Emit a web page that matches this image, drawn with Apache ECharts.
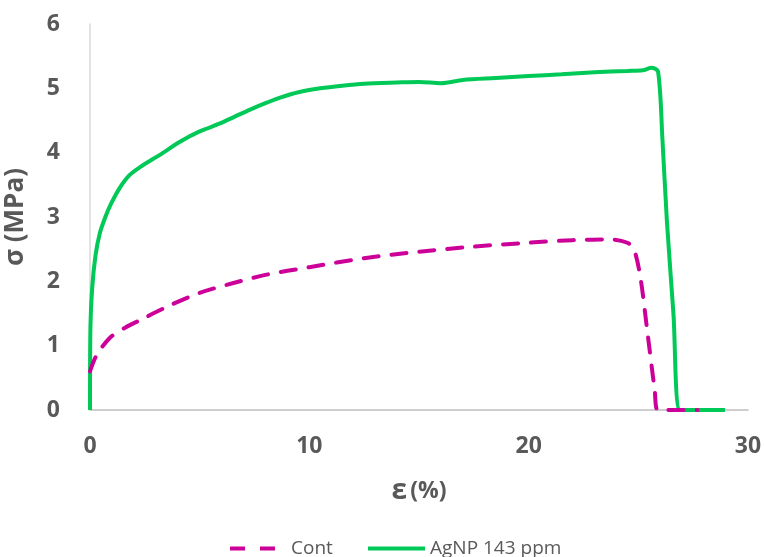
<!DOCTYPE html>
<html>
<head>
<meta charset="utf-8">
<script src="https://cdn.jsdelivr.net/npm/echarts@6/dist/echarts.min.js"></script>
<style>
  html, body { margin: 0; padding: 0; background: #ffffff; }
  #chart { width: 764px; height: 557px; }
</style>
</head>
<body>
<div id="chart"></div>
<script>
// Stress–strain curves: strain ε (%) vs. stress σ (MPa)
const seriesNames = ['Cont', 'AgNP 143 ppm'];

const contCurve = [
  [0, 0.6], [0.3, 0.85], [0.9, 1.12], [1.6, 1.28], [2.3, 1.4], [3.6, 1.62],
  [5, 1.82], [6.5, 1.97], [8, 2.1], [10, 2.22], [12.5, 2.36], [15, 2.46],
  [17.5, 2.54], [20, 2.6], [22, 2.64], [23.8, 2.65], [24.5, 2.6], [24.8, 2.5],
  [25.1, 2.05], [25.4, 1.25], [25.75, 0.3], [25.9, 0], [27.7, 0]
];

const agnpCurve = [
  [0, 0], [0.02, 1.3], [0.1, 1.9], [0.25, 2.4], [0.45, 2.75], [0.7, 3.0],
  [0.95, 3.2], [1.35, 3.45], [1.8, 3.65], [2.3, 3.78], [3.2, 3.97], [4.1, 4.17],
  [5.0, 4.33], [5.9, 4.45], [6.6, 4.56], [7.3, 4.67], [8.0, 4.77], [8.7, 4.86],
  [9.5, 4.94], [10.5, 5.0], [11.5, 5.04], [12.5, 5.07], [14, 5.09], [15, 5.1],
  [16, 5.08], [17, 5.13], [18.5, 5.16], [20, 5.19], [21.5, 5.22], [23, 5.25],
  [24.5, 5.27], [25.2, 5.28], [25.6, 5.32], [25.9, 5.26], [26.1, 4.2],
  [26.3, 2.95], [26.6, 1.5], [26.9, 0], [27.5, 0], [28.95, 0]
];

const xTicks = { min: 0, max: 30, interval: 10 };
const yTicks = { min: 0, max: 6, interval: 1 };

const textColor = '#595959';
const fontFamily = '"Open Sans", Lato, sans-serif';
const contColor = '#CC0099';
const agnpColor = '#00C957';

const chart = echarts.init(document.getElementById('chart'), null, { renderer: 'canvas' });

chart.setOption({
  animation: false,
  backgroundColor: '#ffffff',
  grid: { left: 90, right: 16, top: 24, bottom: 147, containLabel: false, outerBoundsMode: 'none' },
  xAxis: {
    type: 'value',
    min: xTicks.min, max: xTicks.max, interval: xTicks.interval,
    name: '{e|ε} {p|(%)}',
    nameLocation: 'middle',
    nameGap: 67,
    nameTextStyle: {
      rich: {
        e: { fontSize: 28, fontWeight: 'bold', color: textColor, fontFamily: fontFamily },
        p: { fontSize: 23, fontWeight: 'bold', color: textColor, fontFamily: fontFamily }
      }
    },
    axisLine: { show: true, onZero: false, lineStyle: { color: '#BFBFBF', width: 1.5 } },
    axisTick: { show: false },
    splitLine: { show: false },
    axisLabel: { margin: 25, fontSize: 23, fontWeight: 'bold', color: textColor, fontFamily: fontFamily }
  },
  yAxis: {
    type: 'value',
    min: yTicks.min, max: yTicks.max, interval: yTicks.interval,
    name: 'σ (MPa)',
    nameLocation: 'middle',
    nameGap: 61,
    nameRotate: 90,
    nameTextStyle: { fontSize: 26, fontWeight: 'bold', color: textColor, fontFamily: fontFamily },
    axisLine: { show: true, lineStyle: { color: '#D9D9D9', width: 1.5 } },
    axisTick: { show: false },
    splitLine: { show: false },
    axisLabel: { margin: 30, fontSize: 23, fontWeight: 'bold', color: textColor, fontFamily: fontFamily }
  },
  legend: [
    {
      left: 225,
      top: 534,
      itemWidth: 45,
      itemHeight: 4,
      symbolKeepAspect: false,
      textStyle: { fontSize: 19, color: textColor, fontFamily: fontFamily, padding: [0, 0, 0, 11] },
      data: [{ name: seriesNames[0], icon: 'path://M0,0h15v4h-15z M30,0h15v4h-15z' }]
    },
    {
      left: 363,
      top: 534,
      itemWidth: 57,
      itemHeight: 4,
      symbolKeepAspect: false,
      textStyle: { fontSize: 19, color: textColor, fontFamily: fontFamily },
      data: [{ name: seriesNames[1], icon: 'rect' }]
    }
  ],
  series: [
    {
      name: seriesNames[0],
      type: 'line',
      data: contCurve,
      smooth: 0.3,
      symbol: 'none',
      z: 3,
      color: contColor,
      lineStyle: { color: contColor, width: 4, type: [15, 13], cap: 'round' }
    },
    {
      name: seriesNames[1],
      type: 'line',
      data: agnpCurve,
      smooth: 0.3,
      symbol: 'none',
      z: 2,
      color: agnpColor,
      lineStyle: { color: agnpColor, width: 4 }
    }
  ]
});
</script>
</body>
</html>
